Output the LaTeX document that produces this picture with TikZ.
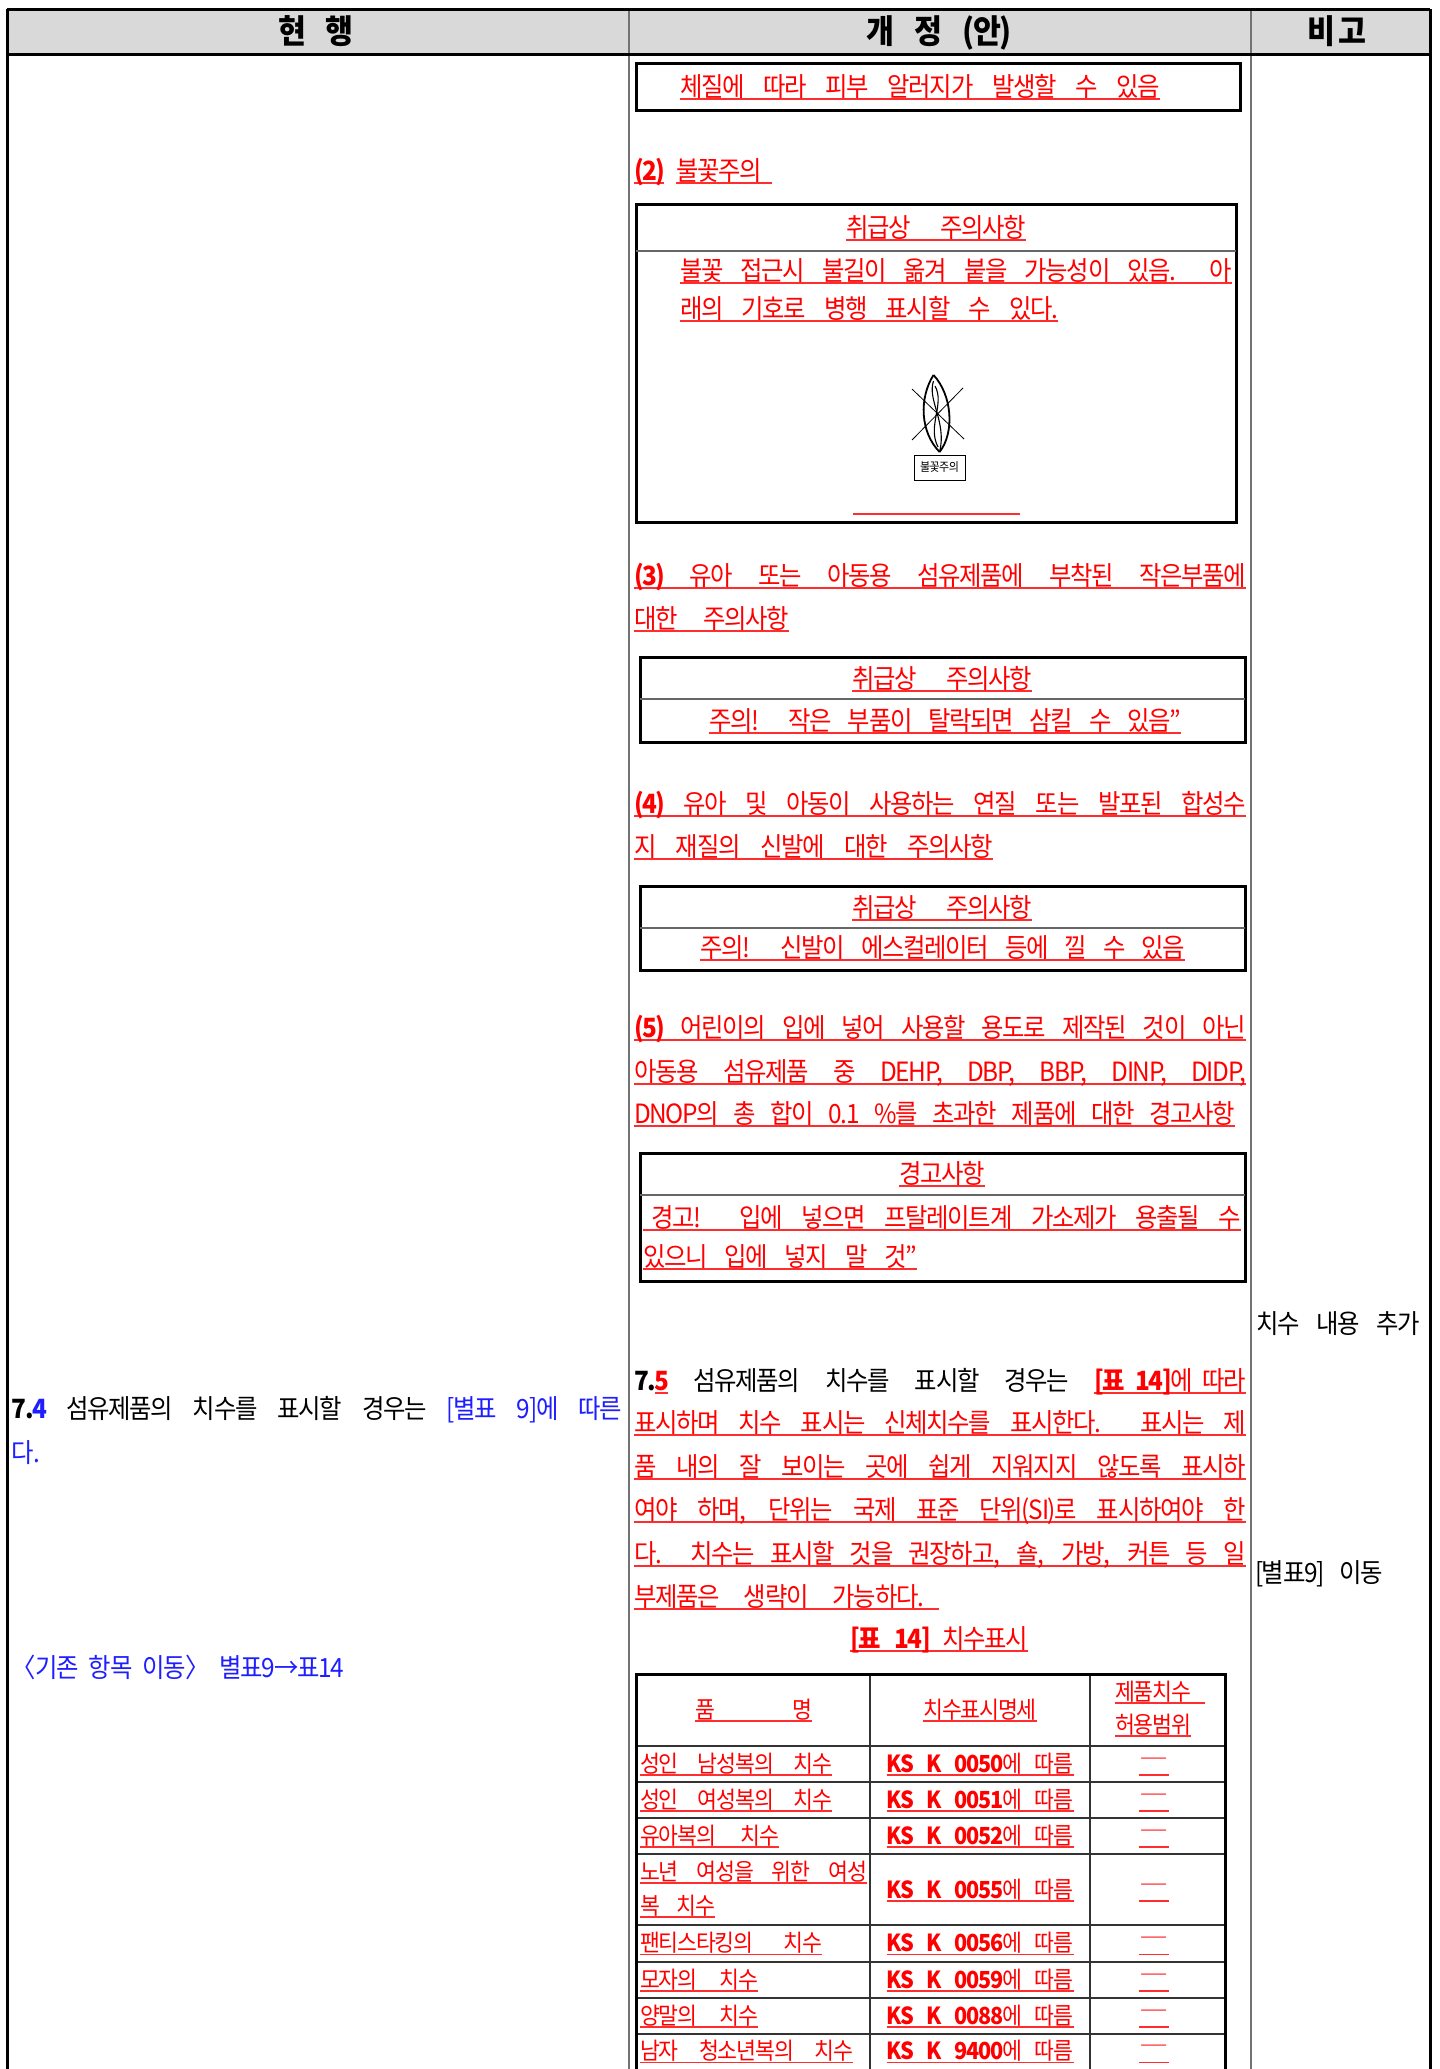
\documentclass[tikz,border=0pt]{standalone}
\usepackage{fontspec}
\setmainfont{Noto Sans CJK KR}[WordSpace=2.3,FakeStretch=0.92,LetterSpace=-5]
\definecolor{hdrgray}{RGB}{217,217,217}
\definecolor{rd}{RGB}{255,0,0}
\definecolor{ulred}{RGB}{255,45,45}
\definecolor{bl}{RGB}{30,30,255}
\newcommand\fsz[1]{\fontsize{#1}{#1}\selectfont}
\newsavebox\ulxbox
\newcommand\ulx[1]{\sbox\ulxbox{#1}\rlap{\color{ulred}\rule[-3.5pt]{\wd\ulxbox}{1.3pt}}\usebox\ulxbox}
\tikzset{
  zb/.style={inner sep=0pt, outer sep=0pt},
  txtb/.style={zb, anchor=base west, font=\fsz{26.5}, text=black},
  txtr/.style={txtb, text=rd},
  txtbl/.style={txtb, text=bl},
  ctr/.style={zb, anchor=base, font=\fsz{26.5}, text=rd},
  tabl/.style={txtr, font=\fsz{23.5}},
  tabc/.style={ctr, font=\fsz{23.5}},
  hdr/.style={zb, anchor=base, font=\fsz{33}\bfseries, text=black},
  boxline/.style={line width=3pt, black},
  divline/.style={line width=1.5pt, black!60},
  colline/.style={line width=1.3pt, black!55},
  frameline/.style={line width=3pt, black},
  tline/.style={line width=1.3pt, black!80},
  flame/.style={line width=1.8pt, black},
  flamein/.style={line width=1.1pt, black},
  crossl/.style={line width=0.8pt, black},
}
\begin{document}
\begin{tikzpicture}[x=1pt,y=-1pt]
\useasboundingbox (0,0) rectangle (1440,2069);
\fill[white] (0,0) rectangle (1440,2069);
% header
\fill[hdrgray] (7,9) rectangle (1430,54);
\draw[colline] (629,9) -- (629,2069);
\draw[colline] (1251,9) -- (1251,2069);
\draw[frameline] (7,9) -- (1430,9);
\draw[frameline] (7,54) -- (1430,54);
\draw[frameline] (7,9) -- (7,2069);
\draw[frameline] (1430,9) -- (1430,2069);
\node[hdr] (h1) at (316,43) {현\hspace{20pt}행};
\node[hdr] (h2) at (939,43) {개\hspace{20pt}정\hspace{20pt}(안)};
\node[hdr] (h3) at (1337,43) {비\hspace{3pt}고};

% box 1
\draw[boxline] (636,63) rectangle (1240,110);
\node[txtr] (b1t) at (680,96) {\ulx{\makebox[480pt][s]{체질에 따라 피부 알러지가 발생할 수 있음}}};

% (2)
\node[txtr] (p2) at (634,180) {\ulx{\textbf{(2)}}\hspace{12pt}\ulx{\makebox[96pt][s]{불꽃주의}}};

% box 2
\draw[boxline] (636,204) rectangle (1236,522);
\draw[divline] (636,251) -- (1236,251);
\node[ctr] (b2h) at (936,237) {\ulx{\makebox[180pt][s]{취급상 주의사항}}};
\node[txtr] (b2l1) at (680,280) {\ulx{\makebox[552pt][s]{불꽃 접근시 불길이 옮겨 붙을 가능성이 있음. 아}}};
\node[txtr] (b2l2) at (680,318) {\ulx{\makebox[378pt][s]{래의 기호로 병행 표시할 수 있다.}}};
% flame symbol
\draw[flame] (933.5,375) .. controls (919,398) and (920,432) .. (939.6,452);
\draw[flame] (933.5,375) .. controls (952,395) and (955,432) .. (939.6,452);
\draw[flamein] (933.5,381) .. controls (927,400) and (947,422) .. (939.6,452);
\draw[flamein] (935,386) .. controls (945,404) and (927,426) .. (938,447);
\draw[crossl] (912,389) -- (964,439);
\draw[crossl] (963,388) -- (912,440);
\draw[line width=0.8pt] (914,455) rectangle (965,480);
\node[zb, font=\fsz{12}, text=black] (fl) at (939.5,467.5) {불꽃주의};
\draw[ulred, line width=1.3pt] (853,514) -- (1020,514);

% (3)
\node[txtr] (p3a) at (634,585) {\ulx{\makebox[612pt][s]{\textbf{(3)} 유아 또는 아동용 섬유제품에 부착된 작은부품에}}};
\node[txtr] (p3b) at (634,628) {\ulx{\makebox[155pt][s]{대한 주의사항}}};

% box 3
\draw[boxline] (640,657) rectangle (1245,742);
\draw[divline] (640,699) -- (1245,699);
\node[ctr] (b3h) at (942,688) {\ulx{\makebox[180pt][s]{취급상 주의사항}}};
\node[ctr] (b3t) at (945,730) {\ulx{\makebox[472pt][s]{주의! 작은 부품이 탈락되면 삼킬 수 있음”}}};

% (4)
\node[txtr] (p4a) at (634,813) {\ulx{\makebox[612pt][s]{\textbf{(4)} 유아 및 아동이 사용하는 연질 또는 발포된 합성수}}};
\node[txtr] (p4b) at (634,856) {\ulx{\makebox[359pt][s]{지 재질의 신발에 대한 주의사항}}};

% box 4
\draw[boxline] (640,886) rectangle (1245,970);
\draw[divline] (640,928) -- (1245,928);
\node[ctr] (b4h) at (942,917) {\ulx{\makebox[180pt][s]{취급상 주의사항}}};
\node[ctr] (b4t) at (942.5,957) {\ulx{\makebox[485pt][s]{주의! 신발이 에스컬레이터 등에 낄 수 있음}}};

% (5)
\node[txtr] (p5a) at (634,1037) {\ulx{\makebox[612pt][s]{\textbf{(5)} 어린이의 입에 넣어 사용할 용도로 제작된 것이 아닌}}};
\node[txtr] (p5b) at (634,1081) {\ulx{\makebox[612pt][s]{아동용 섬유제품 중 DEHP, DBP, BBP, DINP, DIDP,}}};
\node[txtr] (p5c) at (634,1123) {\ulx{\makebox[601pt][s]{DNOP의 총 합이 0.1 \%를 초과한 제품에 대한 경고사항}}};

% box 5
\draw[boxline] (640,1153) rectangle (1245,1281);
\draw[divline] (640,1195) -- (1245,1195);
\node[ctr] (b5h) at (942,1183) {\ulx{경고사항}};
\node[txtr] (b5l1) at (643,1227) {\ulx{\hspace{8pt}\makebox[590pt][s]{경고! 입에 넣으면 프탈레이트계 가소제가 용출될 수}}};
\node[txtr] (b5l2) at (643,1266) {\ulx{\makebox[274pt][s]{있으니 입에 넣지 말 것”}}};

% right column
\node[txtb] (r1) at (1256,1333) {\makebox[164pt][s]{치수 내용 추가}};
\node[txtb] (r2) at (1255,1582) {\makebox[128pt][s]{[별표9] 이동}};

% 7.5 paragraph
\node[txtb] (q1) at (634,1390) {\makebox[612pt][s]{\textbf{7.}\ulx{\textcolor{rd}{\textbf{5}}} 섬유제품의 치수를 표시할 경우는 \ulx{\textcolor{rd}{\textbf{[표 14]}에 따라}}}};
\node[txtr] (q2) at (634,1432) {\ulx{\makebox[612pt][s]{표시하며 치수 표시는 신체치수를 표시한다. 표시는 제}}};
\node[txtr] (q3) at (634,1476) {\ulx{\makebox[612pt][s]{품 내의 잘 보이는 곳에 쉽게 지워지지 않도록 표시하}}};
\node[txtr] (q4) at (634,1519) {\ulx{\makebox[612pt][s]{여야 하며, 단위는 국제 표준 단위(SI)로 표시하여야 한}}};
\node[txtr] (q5) at (634,1563) {\ulx{\makebox[612pt][s]{다. 치수는 표시할 것을 권장하고, 숄, 가방, 커튼 등 일}}};
\node[txtr] (q6) at (634,1606) {\ulx{\makebox[290pt][s]{부제품은 생략이 가능하다.}\hspace{15pt}}};

% caption
\node[ctr] (cap) at (939,1648) {\ulx{\makebox[178pt][s]{\textbf{[표 14]} 치수표시}}};

% table 14
\draw[tline] (870,1674) -- (870,2069);
\draw[tline] (1090,1674) -- (1090,2069);
\foreach \yy in {1746,1782,1818,1854,1925,1962,1998,2034}
  \draw[tline] (636,\yy) -- (1225,\yy);
\draw[frameline] (636,2069) -- (636,1674) -- (1225,1674) -- (1225,2069);
\node[tabc] (th1) at (753.5,1718) {\ulx{\makebox[117pt][s]{품 명}}};
\node[tabc] (th2) at (980,1718) {\ulx{치수표시명세}};
\node[tabl] (th3a) at (1115,1700) {\ulx{제품치수\hspace{14pt}}};
\node[tabl] (th3b) at (1115,1733) {\ulx{허용범위}};

\node[tabl] (a1) at (640,1772) {\ulx{\makebox[192pt][s]{성인 남성복의 치수}}};
\node[tabl] (a2) at (640,1808) {\ulx{\makebox[192pt][s]{성인 여성복의 치수}}};
\node[tabl] (a3) at (640,1844) {\ulx{\makebox[139pt][s]{유아복의 치수}}};
\node[tabl] (a4a) at (640,1880) {\ulx{\makebox[227pt][s]{노년 여성을 위한 여성}}};
\node[tabl] (a4b) at (640,1914) {\ulx{\makebox[75pt][s]{복 치수}}};
\node[tabl] (a5) at (640,1951.5) {\ulx{\makebox[182pt][s]{팬티스타킹의 치수}}};
\node[tabl] (a6) at (640,1988) {\ulx{\makebox[118pt][s]{모자의 치수}}};
\node[tabl] (a7) at (640,2024) {\ulx{\makebox[118pt][s]{양말의 치수}}};
\node[tabl] (a8) at (640,2059.5) {\ulx{\makebox[213pt][s]{남자 청소년복의 치수}}};

\node[tabc] (k1) at (980,1772) {\ulx{\makebox[187pt][s]{\textbf{KS K 0050}에 따름}}};
\node[tabc] (k2) at (980,1808) {\ulx{\makebox[187pt][s]{\textbf{KS K 0051}에 따름}}};
\node[tabc] (k3) at (980,1844) {\ulx{\makebox[187pt][s]{\textbf{KS K 0052}에 따름}}};
\node[tabc] (k4) at (980,1898) {\ulx{\makebox[187pt][s]{\textbf{KS K 0055}에 따름}}};
\node[tabc] (k5) at (980,1951.5) {\ulx{\makebox[187pt][s]{\textbf{KS K 0056}에 따름}}};
\node[tabc] (k6) at (980,1988) {\ulx{\makebox[187pt][s]{\textbf{KS K 0059}에 따름}}};
\node[tabc] (k7) at (980,2024) {\ulx{\makebox[187pt][s]{\textbf{KS K 0088}에 따름}}};
\node[tabc] (k8) at (980,2059.5) {\ulx{\makebox[187pt][s]{\textbf{KS K 9400}에 따름}}};

\foreach \yy/\nm in {1772/d1,1808/d2,1844/d3,1898/d4,1951.5/d5,1988/d6,2024/d7,2059.5/d8}
  \node[tabc] (\nm) at (1154,\yy) {\ulx{\raisebox{5pt}{\scalebox{1.35}[1]{―}}}};

% left column
\node[txtb] (c1) at (12,1418) {\makebox[610pt][s]{\textbf{7.}\textcolor{bl}{\textbf{4}} 섬유제품의 치수를 표시할 경우는 \textcolor{bl}{[별표 9]에 따른}}};
\node[txtbl] (c2) at (12,1462) {다.};
\node[txtbl] (c3) at (12,1677) {\makebox[332pt][s]{〈기존 항목 이동〉 별표9→표14}};
\end{tikzpicture}
\end{document}
